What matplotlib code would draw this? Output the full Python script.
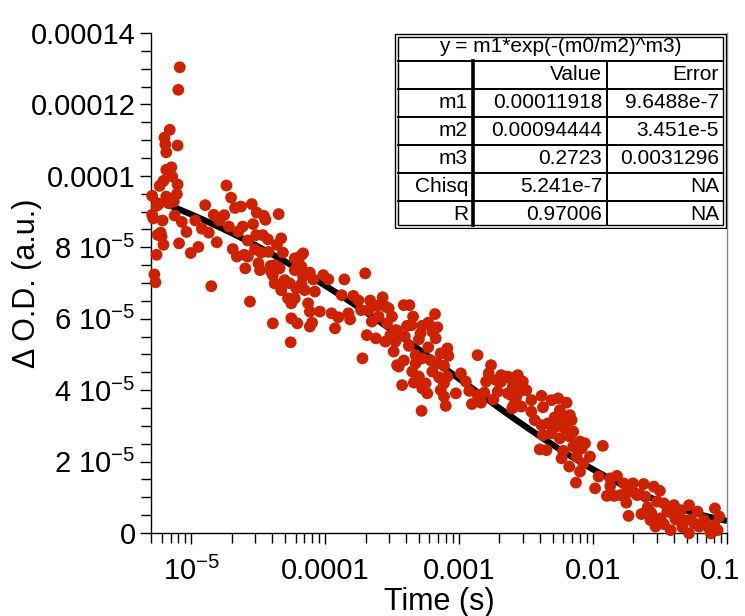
import numpy as np
import matplotlib
matplotlib.use('Agg')
import matplotlib.pyplot as plt
import matplotlib.transforms as mtransforms
from matplotlib.ticker import FixedLocator, FixedFormatter, LogLocator, NullFormatter, MultipleLocator

plt.rcParams['font.family'] = ['Liberation Sans', 'DejaVu Sans']
plt.rcParams['mathtext.fontset'] = 'custom'
plt.rcParams['mathtext.rm'] = 'Liberation Sans'
plt.rcParams['mathtext.it'] = 'Liberation Sans:italic'
plt.rcParams['mathtext.bf'] = 'Liberation Sans:bold'

# ── Measured transient (time in s, ΔOD in units of 1e-5) ──────────────────────
time_s = [
    8.2e-6, 8.0e-6, 6.9e-6, 6.3e-6, 6.4e-6, 6.5e-6, 7.9e-6, 6.5e-6, 7.1e-6, 7.2e-6,
    6.2e-6, 5.8e-6, 7.9e-6, 5.1e-6, 6.5e-6, 7.8e-6, 5.7e-6, 6.8e-6, 5.5e-6, 7.4e-6,
    5.1e-6, 5.2e-6, 6.1e-6, 7.5e-6, 8.5e-6, 5.9e-6, 5.6e-6, 6.0e-6, 6.2e-6, 8.1e-6,
    9.2e-6, 5.5e-6, 5.3e-6, 5.4e-6, 9.9e-6, 1.13e-5, 1.41e-5, 1.07e-5, 1.20e-5, 1.35e-5,
    1.27e-5, 1.47e-5, 1.76e-5, 1.62e-5, 1.91e-5, 1.55e-5, 1.83e-5, 1.98e-5, 2.12e-5, 2.35e-5,
    2.83e-5, 3.08e-5, 3.48e-5, 3.58e-5, 4.49e-5, 2.89e-5, 2.42e-5, 2.24e-5, 2.64e-5, 3.05e-5,
    3.42e-5, 3.73e-5, 4.36e-5, 2.04e-5, 2.19e-5, 2.49e-5, 2.64e-5, 2.99e-5, 3.32e-5, 3.77e-5,
    3.17e-5, 2.53e-5, 3.26e-5, 3.91e-5, 4.06e-5, 2.74e-5, 4.19e-5, 4.83e-5, 5.92e-5, 6.84e-5,
    6.64e-5, 7.67e-5, 9.66e-5, 1.054e-4, 1.390e-4, 1.326e-4, 4.98e-5, 5.43e-5, 6.08e-5, 7.03e-5,
    8.37e-5, 4.69e-5, 5.92e-5, 4.69e-5, 6.56e-5, 4.19e-5, 4.56e-5, 3.94e-5, 5.92e-5, 8.13e-5,
    1.988e-4, 6.64e-5, 5.27e-5, 5.58e-5, 7.45e-5, 7.67e-5, 9.12e-5, 1.115e-4, 1.253e-4, 1.489e-4,
    1.534e-4, 1.623e-4, 1.770e-4, 1.854e-4, 2.167e-4, 2.683e-4, 2.431e-4, 2.812e-4, 2.105e-4, 2.503e-4,
    3.151e-4, 2.228e-4, 2.891e-4, 3.342e-4, 2.81e-4, 2.044e-4, 2.388e-4, 3.243e-4, 1.897e-4, 3.436e-4,
    4.06e-5, 5.58e-5, 6.19e-5, 7.67e-5, 7.98e-5, 1.183e-4, 5.52e-5, 6.27e-5, 6.83e-5, 3.859e-4,
    4.256e-4, 2.977e-4, 4.53e-4, 6.60e-4, 4.08e-4, 4.41e-4, 5.88e-4, 5.30e-4, 6.87e-4, 3.436e-4,
    5.15e-4, 6.30e-4, 3.066e-4, 3.93e-4, 5.00e-4, 6.68e-4, 3.34e-4, 4.21e-4, 5.88e-4, 8.17e-4,
    4.73e-4, 7.28e-4, 8.31e-4, 5.30e-4, 6.12e-4, 1.373e-3, 3.86e-4, 3.54e-4, 4.73e-4, 6.87e-4,
    7.71e-4, 1.730e-3, 4.46e-4, 6.30e-4, 1.030e-3, 1.660e-3, 2.058e-3, 5.00e-4, 7.07e-4, 8.17e-4,
    3.75e-4, 4.59e-4, 5.62e-4, 7.71e-4, 1.588e-3, 1.888e-3, 2.307e-3, 2.67e-3, 1.122e-3, 5.30e-4,
    7.28e-4, 1.189e-3, 1.542e-3, 1.941e-3, 2.307e-3, 5.78e-4, 9.45e-4, 7.71e-4, 1.373e-3, 1.80e-3,
    2.67e-3, 1.245e-3, 1.455e-3, 2.49e-3, 7.94e-4, 5.24e-4, 2.058e-3, 2.99e-3, 2.517e-3, 2.825e-3,
    3.174e-3, 2.636e-3, 2.517e-3, 3.46e-3, 2.91e-3, 2.742e-3, 2.448e-3, 2.448e-3, 4.115e-3, 4.893e-3,
    5.483e-3, 6.339e-3, 4.227e-3, 3.46e-3, 5.649e-3, 6.714e-3, 3.664e-3, 5.176e-3, 5.98e-3, 6.918e-3,
    4.115e-3, 4.61e-3, 5.33e-3, 6.16e-3, 7.11e-3, 4.227e-3, 4.89e-3, 5.65e-3, 6.71e-3, 7.98e-3,
    8.71e-3, 1.183e-2, 7.11e-3, 8.22e-3, 3.995e-3, 4.486e-3, 5.98e-3, 7.54e-3, 9.48e-3, 5.82e-3,
    8.45e-3, 6.64e-3, 7.98e-3, 1.10e-2, 1.507e-2, 1.69e-2, 1.343e-2, 1.035e-2, 7.45e-3, 1.268e-2,
    1.439e-2, 1.596e-2, 1.77e-2, 1.343e-2, 1.986e-2, 2.388e-2, 1.897e-2, 2.131e-2, 2.46e-2, 2.84e-2,
    3.151e-2, 3.013e-2, 3.378e-2, 4.018e-2, 5.206e-2, 6.022e-2, 8.125e-2, 2.559e-2, 1.84e-2, 2.296e-2,
    2.716e-2, 3.58e-2, 4.018e-2, 4.508e-2, 2.683e-2, 2.924e-2, 3.378e-2, 3.793e-2, 4.135e-2, 4.775e-2,
    4.645e-2, 5.206e-2, 5.675e-2, 6.19e-2, 6.745e-2, 7.36e-2, 8.03e-2, 8.75e-2, 8.51e-2, 7.59e-2,
    5.36e-2, 3.19e-2, 1.786e-2, 2.23e-2,
]
od_1e5 = [
    13.04, 12.41, 11.29, 11.07, 10.88, 10.66, 10.85, 10.17, 10.24, 9.98,
    9.86, 9.72, 9.76, 9.44, 9.42, 9.49, 9.21, 9.23, 9.16, 9.28,
    8.91, 8.81, 8.75, 8.89, 8.71, 8.41, 8.35, 8.30, 8.07, 8.11,
    8.43, 7.79, 7.24, 7.02, 7.84, 8.01, 6.91, 8.75, 8.52, 8.41,
    9.18, 8.91, 8.90, 8.75, 8.58, 8.14, 9.73, 9.39, 9.10, 9.14,
    9.21, 8.97, 8.88, 8.77, 8.93, 8.65, 8.58, 8.44, 8.19, 8.34,
    8.34, 8.22, 8.07, 7.95, 7.74, 7.79, 7.74, 7.94, 7.85, 7.87,
    7.55, 7.41, 7.36, 7.48, 7.22, 6.48, 6.99, 7.85, 7.69, 7.83,
    7.46, 7.29, 7.22, 7.10, 7.10, 6.66, 7.08, 6.99, 6.85, 6.80,
    6.76, 6.80, 6.57, 8.25, 7.76, 7.50, 7.41, 7.32, 7.36, 7.10,
    7.27, 6.97, 6.57, 6.43, 6.43, 6.20, 6.20, 6.15, 6.04, 6.15,
    5.98, 6.64, 6.51, 6.24, 6.51, 6.60, 6.36, 6.34, 6.24, 6.06,
    6.06, 5.92, 5.87, 5.68, 5.36, 5.54, 5.45, 5.08, 4.89, 4.70,
    5.87, 6.01, 5.87, 5.78, 5.89, 5.73, 5.34, 7.50, 7.18, 6.38,
    6.38, 6.29, 6.06, 6.13, 5.80, 5.82, 5.89, 5.80, 5.76, 5.67,
    5.59, 5.64, 5.54, 5.50, 5.42, 5.45, 5.36, 5.24, 5.20, 5.17,
    4.98, 5.03, 4.96, 4.89, 4.84, 4.98, 4.83, 4.66, 4.75, 4.75,
    4.68, 4.70, 4.52, 4.52, 4.47, 4.47, 4.42, 4.38, 4.36, 4.38,
    4.14, 4.21, 4.19, 4.19, 4.24, 4.28, 4.38, 4.38, 4.24, 4.05,
    4.00, 3.98, 3.93, 3.96, 3.91, 3.91, 3.91, 3.82, 3.86, 3.74,
    3.82, 3.61, 3.65, 3.49, 3.56, 3.42, 4.24, 4.24, 4.10, 3.96,
    4.00, 3.72, 3.54, 3.72, 3.54, 4.42, 4.33, 3.86, 3.84, 3.72,
    3.77, 3.65, 3.52, 3.40, 3.44, 3.30, 3.16, 3.24, 3.18, 3.16,
    3.02, 3.07, 2.98, 2.93, 2.84, 2.74, 2.79, 2.65, 2.70, 2.56,
    2.51, 2.44, 2.42, 2.37, 2.34, 2.32, 2.30, 2.14, 2.14, 2.09,
    1.95, 1.86, 1.72, 1.58, 1.60, 1.39, 1.32, 1.25, 1.41, 1.04,
    1.04, 1.06, 0.85, 1.53, 1.39, 1.37, 1.16, 1.06, 1.02, 1.30,
    1.18, 0.88, 0.83, 0.78, 0.78, 0.60, 0.69, 0.72, 0.48, 0.53,
    0.57, 0.60, 0.50, 0.64, 0.36, 0.18, 0.25, 0.08, 0.38, 0.36,
    0.16, -0.01, 0.27, 0.18, 0.36, 0.13, 0.22, 0.46, 0.08, -0.01,
    0.38, 0.41, 1.13, 1.09,
]

# ── Fit results (stretched exponential) ───────────────────────────────────────
fit_equation = 'y = m1*exp(-(m0/m2)^m3)'
row_names = ['m1', 'm2', 'm3', 'Chisq', 'R']
row_values = ['0.00011918', '0.00094444', '0.2723', '5.241e-7', '0.97006']
row_errors = ['9.6488e-7', '3.451e-5', '0.0031296', 'NA', 'NA']
m1, m2, m3 = 0.00011918, 0.00094444, 0.2723

x_ticks = [1e-5, 1e-4, 1e-3, 1e-2, 1e-1]
x_ticklabels = [r'$\mathregular{10^{-5}}$', '0.0001', '0.001', '0.01', '0.1']
y_ticks = [0, 2e-5, 4e-5, 6e-5, 8e-5, 1e-4, 1.2e-4, 1.4e-4]
y_ticklabels = ['0', r'2 $\mathregular{10^{-5}}$', r'4 $\mathregular{10^{-5}}$',
                r'6 $\mathregular{10^{-5}}$', r'8 $\mathregular{10^{-5}}$',
                '0.0001', '0.00012', '0.00014']

t = np.array(time_s)
od = np.array(od_1e5) * 1e-5
t_fit = np.logspace(np.log10(5e-6), -1, 400)
od_fit = m1 * np.exp(-(t_fit / m2) ** m3)

# ── Plot ──────────────────────────────────────────────────────────────────────
W, H = 745, 616
fig = plt.figure(figsize=(W / 100, H / 100), dpi=100)
ax = fig.add_axes([151 / W, 1 - 533 / H, (727 - 151) / W, (533 - 33) / H])

ax.plot(t_fit, od_fit, color='black', lw=4.5, zorder=2, solid_capstyle='butt')
ax.scatter(t, od, s=72, color='#cc2200', edgecolors='none', zorder=3, clip_on=False)

ax.set_xscale('log')
ax.set_xlim(5e-6, 0.1)
ax.set_ylim(0, 1.4e-4)

ax.xaxis.set_major_locator(FixedLocator(x_ticks))
ax.xaxis.set_major_formatter(FixedFormatter(x_ticklabels))
ax.xaxis.set_minor_locator(LogLocator(base=10, subs=np.arange(2, 10)))
ax.xaxis.set_minor_formatter(NullFormatter())
ax.yaxis.set_major_locator(FixedLocator(y_ticks))
ax.yaxis.set_major_formatter(FixedFormatter(y_ticklabels))
ax.yaxis.set_minor_locator(MultipleLocator(5e-6))

ax.tick_params(which='both', direction='out', width=1, color='black')
ax.tick_params(which='major', length=8, labelsize=21)
ax.tick_params(which='minor', length=7)
ax.tick_params(axis='x', which='major', pad=9)
ax.tick_params(axis='y', which='major', pad=3)

ax.spines['top'].set_visible(False)
ax.spines['right'].set_color('#888888')
ax.spines['right'].set_linewidth(1)
ax.spines['left'].set_linewidth(1)
ax.spines['bottom'].set_linewidth(1)

ax.set_xlabel('Time (s)', fontsize=22, labelpad=1)
ax.set_ylabel('\u0394 O.D. (a.u.)', fontsize=22)
ax.yaxis.set_label_coords(-0.19, 0.5)

# keep the last x label ("0.1") inside the canvas, as in the original
fig.canvas.draw()
last = ax.xaxis.get_major_ticks()[-1].label1
last.set_transform(last.get_transform()
                   + mtransforms.ScaledTranslation(-5 / 72, 0, fig.dpi_scale_trans))

# ── Fit table (drawn in its own pixel-unit axes) ──────────────────────────────
tx0, ty0, tw, th = 394, 33, 333, 196
tab = fig.add_axes([tx0 / W, 1 - (ty0 + th) / H, tw / W, th / H], zorder=5)
tab.set_xlim(0, tw)
tab.set_ylim(th, 0)
tab.axis('off')
tab.add_patch(plt.Rectangle((0, 0), tw, th, facecolor='white', edgecolor='none'))

row_h = th / 7
col_x = [0, 79, 213, tw]
# double outer border
for inset in (1, 4):
    tab.add_patch(plt.Rectangle((inset, inset), tw - 2 * inset, th - 2 * inset,
                                fill=False, edgecolor='black', lw=1.0))
# horizontal row rules
for i in range(1, 7):
    tab.plot([4, tw - 4], [i * row_h, i * row_h], color='black', lw=1.4)
# column rules
tab.plot([col_x[1], col_x[1]], [row_h, th - 4], color='black', lw=2.6)
tab.plot([col_x[2], col_x[2]], [row_h, th - 4], color='black', lw=1.4)

fs = 15
tab.text(tw / 2, row_h * 0.5, fit_equation, ha='center', va='center', fontsize=fs)
tab.text(col_x[2] - 5, row_h * 1.5, 'Value', ha='right', va='center', fontsize=fs)
tab.text(col_x[3] - 8, row_h * 1.5, 'Error', ha='right', va='center', fontsize=fs)
for i, (nm, val, err) in enumerate(zip(row_names, row_values, row_errors)):
    yc = row_h * (i + 2.5)
    tab.text(col_x[1] - 5, yc, nm, ha='right', va='center', fontsize=fs)
    tab.text(col_x[2] - 5, yc, val, ha='right', va='center', fontsize=fs)
    tab.text(col_x[3] - 8, yc, err, ha='right', va='center', fontsize=fs)

fig.savefig('out.png', dpi=100)
